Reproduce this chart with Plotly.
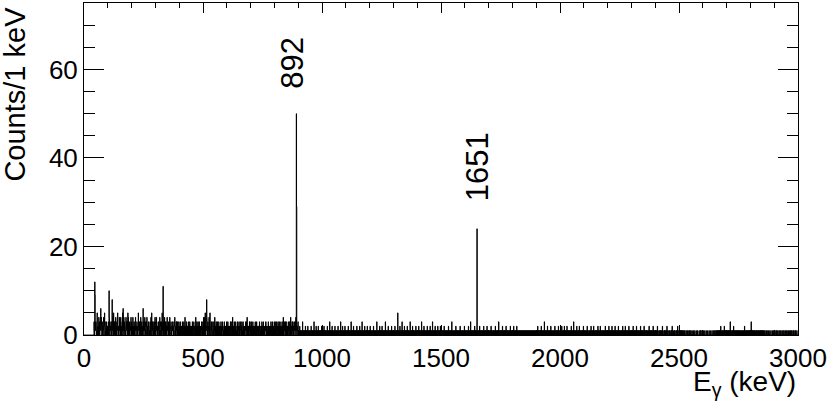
import numpy as np
import plotly.graph_objects as go

# counts per 1 keV bin, one digit per bin, 100 bins per string (0-2999 keV)
spectrum_digits = [
    "0000000000 0000000000 0000000000 0000000000 0031049213 2101 3520 1202 4130 0212 6241 1030 2013 4102 5231 0120 3012 20",
    "2130 1042 0312 2101 3082 1420 5213 0130 2402 1031 3520 0212 4130 2041 1202 3150 6214 0312 2010 4231 1302 5140 2031 0212 3401",
    "3120 1402 2031 0213 4102 2130 1021 5230 0312 2041 3102 1203 6130 0214 2301 1032 4120 2013 3201 0130 1402 5213 2031 0120 3140",
    "2031 4120 0213 3102 1042 2301 0312 5120 0203 2140 1302 3021 0412 2130 1203 4012 2301 0213 3120 1032 2401 0213 1302 3021 0130",
    "2010 3102 0210 1302 2013 0120 4102 1031 0201 2130 1020 3012 0210 2103 1020 0312 2010 1402 0130 2013 1020 3102 0201 1230 2013",
    "3140 2304 1520 2138 4102 3021 1403 2510 0213 1032 2010 0302 1420 2013 0120 3102 1030 0201 2103 1020 0312 2010 1302 0210 2103",
    "1020 3102 0201 2013 1030 0210 4102 1023 0120 2301 1020 0312 2103 0201 1320 2013 0102 3021 1020 0213 2031 1402 0120 2013 1302",
    "2103 0120 1302 0210 2013 1020 0301 2102 1020 0312 2010 1203 0120 2301 1020 0213 3102 0201 1030 2102 0120 1302 2013 0210 1203",
    "2013 0210 1302 2103 0120 3021 1203 0210 2103 1402 0213 2130 1302 0210 2031 1203 3120 4102 2031 1302 0213 2103 3140 0021 2103",
    "1010 0120 1010 1001 0130 1010 0101 1020 0101 1010 2010 0101 1010 0120 1001 0101 1030 1010 0102 1010 0101 2010 1001 0101 1020",
    "0101 1010 2010 0101 1001 0120 1010 0101 3010 1001 0120 1010 0101 1020 0101 1010 0102 1001 0101 1030 1010 0120 1001 0101 2010",
    "1010 0101 1020 0101 1010 0130 1001 0101 2010 1010 0101 1020 1001 0101 0120 1010 0101 3010 1001 0102 1010 0101 1020 0101 1010",
    "0120 1010 0101 1001 2010 0101 1010 0130 1001 0101 1020 1010 0101 2010 1001 0101 1030 0101 1010 0120 1001 0101 1010 2010 0101",
    "1010 0120 1001 0101 1050 1010 0102 1001 0101 3010 1010 0120 1001 0101 1020 0101 1010 0130 1001 0101 2010 1010 0101 1020 0101",
    "1001 0120 1010 0101 1030 1001 0101 2010 1010 0101 1020 1001 0101 0120 1010 0101 3010 1001 0102 1010 0101 1020 0101 1010 0201",
    "1010 0101 1001 0201 1010 0101 1010 0102 1001 0101 1010 0301 1010 0101 1001 0120 1010 0101 1010 0101 2010 1001 0101 1010 0120",
    "1010 0101 1001 0102 1010 0101 3010 1001 0101 1010 0201 1010 0100 1010 0101 1020 1001 0101 1010 0102 1001 0101 1010 0201 1010",
    "0101 1001 0120 1010 0101 1010 0101 2010 1001 0101 1030 0101 1010 0101 1020 1001 0101 1010 0201 1010 0101 1001 0102 1010 0101",
    "1010 0201 1001 0101 1020 1010 0101 1010 0101 1010 0101 1010 0101 1010 0101 1010 0101 1010 0101 1010 0101 1010 0101 1010 0101",
    "1010 0120 1001 0101 1010 0201 1010 0101 1030 0101 1010 0102 1001 0101 1010 0201 1010 0101 1001 0120 1010 0101 1010 0201 1001",
    "1010 0102 1001 0101 1020 0100 1010 0201 1001 0100 1010 0102 0101 1001 0300 1010 0101 1020 0100 1010 0201 1001 0100 1010 0120",
    "0101 1001 0100 1020 1010 0001 0101 1020 0100 1010 0201 1001 0100 1010 0102 0101 1001 0200 1010 0101 1010 0100 1020 1001 0101",
    "1010 0201 1001 0101 1020 1010 0101 0102 1001 0101 1010 0201 1010 0101 1001 0102 1010 0101 1020 1001 0101 1010 0201 1010 0100",
    "1010 0102 1001 0101 1010 0201 1010 0101 1001 0120 1010 0101 1010 0201 1001 0101 1010 0100 1020 1001 0100 1010 0102 0100 1001",
    "0100 1010 0201 1000 0101 1001 0100 1020 1000 0101 0100 1010 0201 1000 0100 1010 0001 0102 1000 0100 1010 0001 0100 1020 0001",
    "0101001010 1010010100 0100100001 1000010010 0001001000 1000010000 0100001000 0010000100 0000100001 0100001000",
    "0001000010 0000100000 1000001000 0100000010 0001000100 0100010010 0101001010 1010020100 0100101001 2001010010",
    "0101001010 1010030100 0100101002 1001010010 0101001010 1010010100 0100101001 1001020010 0101001010 1010010100",
    "0103001010 1010010100 0100101001 1001010010 0101001010 1010010100 0100001000 1000010000 0100001000 0010000100",
    "0001000010 0100010000 1000100010 0001000100 0100001000 1000100001 0001000010 0100100001 0010000100 1000010000",
]

# bins above 9 counts and the two lines
spike_kev = [45, 105, 332, 892, 893, 1651]
spike_counts = [12, 10, 11, 50, 29, 24]

peak_labels = ["892", "1651"]
peak_label_x = [878, 1653]
peak_label_y = [61.5, 38]

# every string covers exactly 100 bins
rows = [s.replace(" ", "").ljust(100, "0")[:100] for s in spectrum_digits]
counts = np.array([int(c) for c in "".join(rows)], dtype=float)
for e, c in zip(spike_kev, spike_counts):
    counts[e] = c

edges = np.arange(len(counts) + 1)
ystep = np.append(counts, counts[-1])

font = "Liberation Sans, Arial, Helvetica, sans-serif"

fig = go.Figure()
fig.add_trace(go.Scatter(
    x=edges, y=ystep, mode="lines", line_shape="hv",
    line=dict(color="black", width=1), hoverinfo="skip", showlegend=False,
))

for txt, px, py in zip(peak_labels, peak_label_x, peak_label_y):
    fig.add_annotation(x=px, y=py, text=txt, textangle=-90, showarrow=False,
                       xanchor="center", yanchor="middle",
                       font=dict(family=font, size=31, color="black"))

fig.add_annotation(xref="paper", yref="paper", x=-0.096, y=0.995, text="Counts/1 keV",
                   textangle=-90, showarrow=False, xanchor="center", yanchor="top",
                   font=dict(family=font, size=29, color="black"))
fig.add_annotation(xref="paper", yref="paper", x=1.0, y=-0.146, text="E<sub>γ</sub> (keV)",
                   showarrow=False, xanchor="right", yanchor="middle",
                   font=dict(family=font, size=28, color="black"))

fig.update_xaxes(
    range=[0, 3000], dtick=500, tick0=0, ticks="inside", ticklen=10, tickcolor="black",
    minor=dict(dtick=100, ticks="inside", ticklen=5, tickcolor="black"),
    showline=True, linecolor="black", linewidth=1, mirror="ticks", automargin=False,
    showgrid=False, zeroline=False, tickfont=dict(family=font, size=26, color="black"),
)
fig.update_yaxes(
    range=[0, 75], dtick=20, tick0=0, ticks="inside", ticklen=20, tickcolor="black",
    minor=dict(dtick=5, ticks="inside", ticklen=11, tickcolor="black"),
    showline=True, linecolor="black", linewidth=1, mirror="ticks", automargin=False,
    showgrid=False, zeroline=False, tickfont=dict(family=font, size=26, color="black"),
)

fig.update_layout(
    width=830, height=401,
    margin=dict(l=84, r=32, t=3, b=66),
    paper_bgcolor="white", plot_bgcolor="white",
)

# the page body has a default 8px margin; drop it so the figure sits at 0,0
fig.write_html("out.html", config={"displayModeBar": False},
               post_script="document.body.style.margin='0';")
